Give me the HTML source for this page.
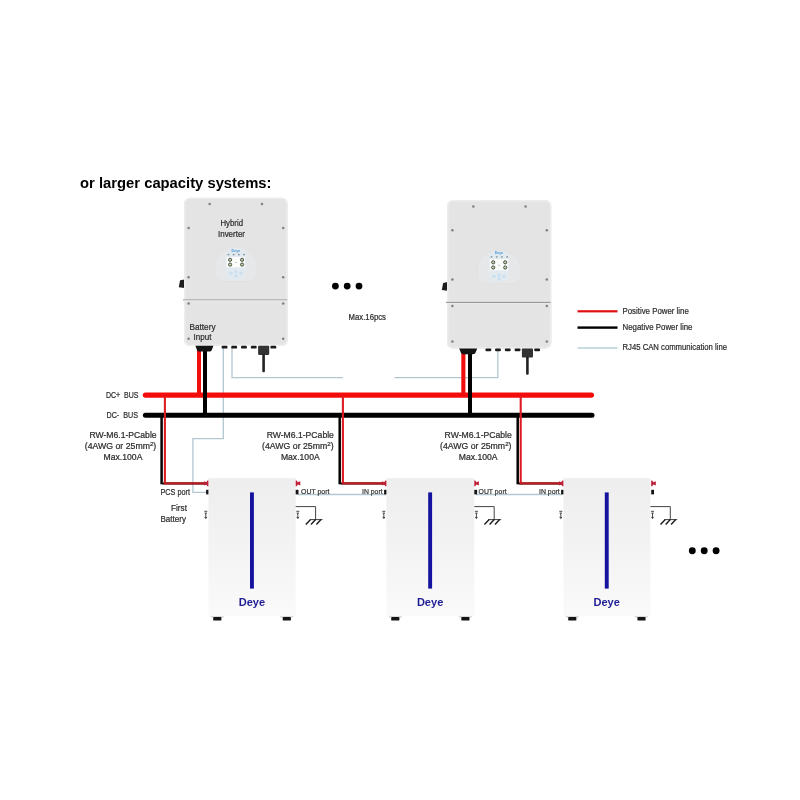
<!DOCTYPE html>
<html lang="en"><head><meta charset="utf-8"><title>Larger capacity systems</title>
<style>html,body{margin:0;padding:0;background:#fff;}body{width:800px;height:800px;overflow:hidden;}svg{display:block;font-family:'Liberation Sans', sans-serif;}</style>
</head><body>
<svg width="800" height="800" viewBox="0 0 800 800">
<defs><filter id="soft" x="0" y="0" width="800" height="800" filterUnits="userSpaceOnUse" color-interpolation-filters="sRGB"><feGaussianBlur stdDeviation="0.35"/></filter><linearGradient id="batg" x1="0" y1="0" x2="0" y2="1"><stop offset="0" stop-color="#eeeeee"/><stop offset="0.5" stop-color="#f3f3f3"/><stop offset="1" stop-color="#fafafa"/></linearGradient></defs>
<rect width="800" height="800" fill="#fff"/>
<g filter="url(#soft)">
<text x="80.10" y="187.90" font-size="14.8" fill="#000" font-weight="bold" textLength="191.40" lengthAdjust="spacingAndGlyphs">or larger capacity systems:</text>
<path d="M223.3 348 V438.7 H192.9 V492.4 H206" fill="none" stroke="#b2c7d2" stroke-width="1.3"/>
<path d="M232 348 V377.6 H343" fill="none" stroke="#b2c7d2" stroke-width="1.3"/>
<path d="M497.8 350 V377.6 H394.5" fill="none" stroke="#b2c7d2" stroke-width="1.3"/>
<path d="M298 494.5 H386" fill="none" stroke="#b2c7d2" stroke-width="1.3"/>
<path d="M476 494.5 H562" fill="none" stroke="#b2c7d2" stroke-width="1.3"/>
<rect x="197" y="349" width="4" height="46" fill="#f20d0d"/>
<rect x="461.3" y="351" width="4.1" height="44" fill="#f20d0d"/>
<path d="M145.4 395.1 H591.4" fill="none" stroke="#f30c0c" stroke-width="5.3" stroke-linecap="round"/>
<path d="M145.4 415.3 H592" fill="none" stroke="#000" stroke-width="5.0" stroke-linecap="round"/>
<rect x="203" y="349" width="4" height="67" fill="#000"/>
<rect x="468" y="351" width="4" height="65" fill="#000"/>
<path d="M161.6 415 V484.3" fill="none" stroke="#000" stroke-width="2.5"/>
<path d="M162.6 483.5 H207" fill="none" stroke="#000" stroke-width="1.9"/>
<path d="M164.9 396 V483.3" fill="none" stroke="#dc1c22" stroke-width="2.1"/>
<path d="M163.85 483.3 H207" fill="none" stroke="#bf1c22" stroke-width="2.2"/>
<path d="M339.7 415 V484.3" fill="none" stroke="#000" stroke-width="2.5"/>
<path d="M340.7 483.5 H385.5" fill="none" stroke="#000" stroke-width="1.9"/>
<path d="M342.9 396 V483.3" fill="none" stroke="#dc1c22" stroke-width="2.1"/>
<path d="M341.84999999999997 483.3 H385.5" fill="none" stroke="#bf1c22" stroke-width="2.2"/>
<path d="M517.7 415 V484.3" fill="none" stroke="#000" stroke-width="2.5"/>
<path d="M518.7 483.5 H562" fill="none" stroke="#000" stroke-width="1.9"/>
<path d="M520.7 396 V483.3" fill="none" stroke="#dc1c22" stroke-width="2.1"/>
<path d="M519.6500000000001 483.3 H562" fill="none" stroke="#bf1c22" stroke-width="2.2"/>
<path d="M184.5 279.4 l-4.4 0.9 l-1.3 7 l5.7 0.8 z" fill="#1c1c1c"/>
<path d="M184.0 203.7 a6 6 0 0 1 6 -6 H281.7 a6 6 0 0 1 6 6 V340 a6 6 0 0 1 -6 6 H190.0 a6 6 0 0 1 -6 -6 z" fill="#e4e4e4"/>
<path d="M184.0 299.8 H287.7 V340 a6 6 0 0 1 -6 6 H190.0 a6 6 0 0 1 -6 -6 z" fill="#e4e4e4"/>
<path d="M184.7 203.7 a5.3 5.3 0 0 1 5.3 -5.3 H281.7 a5.3 5.3 0 0 1 5.3 5.3 V340 a5.3 5.3 0 0 1 -5.3 5.3 H190.0 a5.3 5.3 0 0 1 -5.3 -5.3 z" fill="none" stroke="#ededed" stroke-width="1.4"/>
<rect x="183.0" y="299.10" width="104.1" height="1.4" fill="#b6b6b6"/>
<rect x="184.0" y="300.50" width="103.69999999999999" height="1.2" fill="#ededed" opacity="0.7"/>
<circle cx="209.6" cy="204.1" r="1.25" fill="#808080"/>
<circle cx="262.0" cy="204.1" r="1.25" fill="#808080"/>
<circle cx="188.6" cy="227.9" r="1.25" fill="#808080"/>
<circle cx="283.2" cy="227.9" r="1.25" fill="#808080"/>
<circle cx="188.6" cy="277.3" r="1.25" fill="#808080"/>
<circle cx="283.2" cy="277.3" r="1.25" fill="#808080"/>
<circle cx="188.6" cy="303.4" r="1.25" fill="#808080"/>
<circle cx="283.2" cy="303.4" r="1.25" fill="#808080"/>
<circle cx="188.6" cy="338.8" r="1.25" fill="#808080"/>
<circle cx="283.2" cy="338.8" r="1.25" fill="#808080"/>
<path d="M214.6 271.6 V266.2 A21.3 19.2 0 0 1 257.2 266.2 V271.6 Q257.2 281.6 247.2 281.6 H224.6 Q214.6 281.6 214.6 271.6 z" fill="#e6e7e9" stroke="#dcdcdc" stroke-width="0.5"/>
<rect x="226.1" y="248.2" width="19.6" height="31.2" rx="6" fill="#dfecf5" opacity="0.55"/>
<text x="231.6" y="252.0" font-size="4.2" font-weight="bold" fill="#4a97d4" textLength="8.6" lengthAdjust="spacingAndGlyphs">Deye</text>
<rect x="227.6" y="253.9" width="1.6" height="1.4" fill="#7c909c"/>
<rect x="232.8" y="253.9" width="1.6" height="1.4" fill="#7c909c"/>
<rect x="238.0" y="253.9" width="1.6" height="1.4" fill="#7c909c"/>
<rect x="243.2" y="253.9" width="1.6" height="1.4" fill="#7c909c"/>
<rect x="226.7" y="256.9" width="18.4" height="10.4" fill="#fbfdfa"/>
<circle cx="230.1" cy="259.8" r="1.6" fill="#c3d2ae" stroke="#3a4034" stroke-width="0.9"/>
<circle cx="242.1" cy="259.8" r="1.6" fill="#c3d2ae" stroke="#3a4034" stroke-width="0.9"/>
<circle cx="230.1" cy="264.6" r="1.6" fill="#c3d2ae" stroke="#3a4034" stroke-width="0.9"/>
<circle cx="242.1" cy="264.6" r="1.6" fill="#c3d2ae" stroke="#3a4034" stroke-width="0.9"/>
<rect x="235.3" y="262.1" width="1.4" height="0.9" fill="#9aa69a"/>
<ellipse cx="230.9" cy="273.3" rx="1.8" ry="1.7" fill="#cbdfee"/>
<ellipse cx="235.9" cy="271.9" rx="1.8" ry="1.7" fill="#cbdfee"/>
<ellipse cx="240.9" cy="273.3" rx="1.8" ry="1.7" fill="#cbdfee"/>
<ellipse cx="235.9" cy="275.9" rx="1.8" ry="1.7" fill="#cbdfee"/>
<text x="220.50" y="226.20" font-size="8.8" fill="#2c2c2c" font-weight="normal" textLength="22.50" lengthAdjust="spacingAndGlyphs" stroke="#2c2c2c" stroke-width="0.22">Hybrid</text>
<text x="218.00" y="236.60" font-size="8.8" fill="#2c2c2c" font-weight="normal" textLength="27.00" lengthAdjust="spacingAndGlyphs" stroke="#2c2c2c" stroke-width="0.22">Inverter</text>
<text x="189.50" y="329.60" font-size="9" fill="#2c2c2c" font-weight="normal" textLength="26.00" lengthAdjust="spacingAndGlyphs" stroke="#2c2c2c" stroke-width="0.22">Battery</text>
<text x="193.50" y="339.60" font-size="9" fill="#2c2c2c" font-weight="normal" textLength="17.90" lengthAdjust="spacingAndGlyphs" stroke="#2c2c2c" stroke-width="0.22">Input</text>
<path d="M195.4 345.8 h18 l-1.6 4.2 q-0.6 1.6 -2.4 1.6 h-10 q-1.8 0 -2.4 -1.6 z" fill="#141414"/>
<rect x="221.6" y="345.8" width="5.9" height="2.8" rx="1.2" fill="#1c1c1c"/>
<rect x="231.2" y="345.8" width="5.9" height="2.8" rx="1.2" fill="#1c1c1c"/>
<rect x="241.0" y="345.8" width="5.9" height="2.8" rx="1.2" fill="#1c1c1c"/>
<rect x="250.8" y="345.8" width="5.9" height="2.8" rx="1.2" fill="#1c1c1c"/>
<rect x="270.4" y="345.8" width="5.9" height="2.8" rx="1.2" fill="#1c1c1c"/>
<rect x="258.1" y="345.8" width="11.1" height="9.1" rx="0.8" fill="#333"/>
<rect x="262.3" y="354.0" width="2.6" height="18.2" rx="1" fill="#222"/>
<path d="M447.5 282.0 l-4.4 0.9 l-1.3 7 l5.7 0.8 z" fill="#1c1c1c"/>
<path d="M447.0 206.0 a6 6 0 0 1 6 -6 H545.3 a6 6 0 0 1 6 6 V342.6 a6 6 0 0 1 -6 6 H453.0 a6 6 0 0 1 -6 -6 z" fill="#e4e4e4"/>
<path d="M447.0 302.4 H551.3 V342.6 a6 6 0 0 1 -6 6 H453.0 a6 6 0 0 1 -6 -6 z" fill="#e4e4e4"/>
<path d="M447.7 206.0 a5.3 5.3 0 0 1 5.3 -5.3 H545.3 a5.3 5.3 0 0 1 5.3 5.3 V342.6 a5.3 5.3 0 0 1 -5.3 5.3 H453.0 a5.3 5.3 0 0 1 -5.3 -5.3 z" fill="none" stroke="#ededed" stroke-width="1.4"/>
<rect x="446.0" y="301.90" width="104.69999999999996" height="1.0" fill="#8a8a8a"/>
<rect x="447.0" y="302.90" width="104.29999999999995" height="1.2" fill="#ededed" opacity="0.7"/>
<circle cx="473.4" cy="206.4" r="1.25" fill="#808080"/>
<circle cx="525.6" cy="206.4" r="1.25" fill="#808080"/>
<circle cx="452.4" cy="230.2" r="1.25" fill="#808080"/>
<circle cx="546.8" cy="230.2" r="1.25" fill="#808080"/>
<circle cx="452.4" cy="279.6" r="1.25" fill="#808080"/>
<circle cx="546.8" cy="279.6" r="1.25" fill="#808080"/>
<circle cx="452.4" cy="306.0" r="1.25" fill="#808080"/>
<circle cx="546.8" cy="306.0" r="1.25" fill="#808080"/>
<circle cx="452.4" cy="341.4" r="1.25" fill="#808080"/>
<circle cx="546.8" cy="341.4" r="1.25" fill="#808080"/>
<path d="M477.0 273.8 V269.6 A22.0 19.8 0 0 1 521.0 269.6 V273.8 Q521.0 283.8 511.0 283.8 H487.0 Q477.0 283.8 477.0 273.8 z" fill="#e6e7e9" stroke="#dcdcdc" stroke-width="0.5"/>
<rect x="489.2" y="251.0" width="19.6" height="30.6" rx="6" fill="#dfecf5" opacity="0.55"/>
<text x="494.7" y="254.3" font-size="4.2" font-weight="bold" fill="#4a97d4" textLength="8.6" lengthAdjust="spacingAndGlyphs">Deye</text>
<rect x="490.7" y="256.2" width="1.6" height="1.4" fill="#7c909c"/>
<rect x="495.9" y="256.2" width="1.6" height="1.4" fill="#7c909c"/>
<rect x="501.1" y="256.2" width="1.6" height="1.4" fill="#7c909c"/>
<rect x="506.3" y="256.2" width="1.6" height="1.4" fill="#7c909c"/>
<rect x="489.8" y="259.2" width="18.4" height="11.2" fill="#fbfdfa"/>
<circle cx="493.2" cy="262.3" r="1.6" fill="#c3d2ae" stroke="#3a4034" stroke-width="0.9"/>
<circle cx="505.2" cy="262.3" r="1.6" fill="#c3d2ae" stroke="#3a4034" stroke-width="0.9"/>
<circle cx="493.2" cy="267.5" r="1.6" fill="#c3d2ae" stroke="#3a4034" stroke-width="0.9"/>
<circle cx="505.2" cy="267.5" r="1.6" fill="#c3d2ae" stroke="#3a4034" stroke-width="0.9"/>
<rect x="498.4" y="264.8" width="1.4" height="0.9" fill="#9aa69a"/>
<ellipse cx="494.0" cy="276.4" rx="1.8" ry="1.7" fill="#cbdfee"/>
<ellipse cx="499.0" cy="275.0" rx="1.8" ry="1.7" fill="#cbdfee"/>
<ellipse cx="504.0" cy="276.4" rx="1.8" ry="1.7" fill="#cbdfee"/>
<ellipse cx="499.0" cy="279.0" rx="1.8" ry="1.7" fill="#cbdfee"/>
<path d="M459.2 348.4 h18 l-1.6 4.2 q-0.6 1.6 -2.4 1.6 h-10 q-1.8 0 -2.4 -1.6 z" fill="#141414"/>
<rect x="485.4" y="348.4" width="5.9" height="2.8" rx="1.2" fill="#1c1c1c"/>
<rect x="495.0" y="348.4" width="5.9" height="2.8" rx="1.2" fill="#1c1c1c"/>
<rect x="504.8" y="348.4" width="5.9" height="2.8" rx="1.2" fill="#1c1c1c"/>
<rect x="514.6" y="348.4" width="5.9" height="2.8" rx="1.2" fill="#1c1c1c"/>
<rect x="534.2" y="348.4" width="5.9" height="2.8" rx="1.2" fill="#1c1c1c"/>
<rect x="521.9" y="348.4" width="11.1" height="9.1" rx="0.8" fill="#333"/>
<rect x="526.1" y="356.6" width="2.6" height="18.2" rx="1" fill="#222"/>
<circle cx="335.4" cy="286.1" r="3.4" fill="#000"/>
<circle cx="347.2" cy="286.1" r="3.4" fill="#000"/>
<circle cx="359.0" cy="286.1" r="3.4" fill="#000"/>
<circle cx="692.3" cy="550.7" r="3.45" fill="#000"/>
<circle cx="704.2" cy="550.7" r="3.45" fill="#000"/>
<circle cx="716.1" cy="550.7" r="3.45" fill="#000"/>
<text x="348.60" y="320.00" font-size="8.6" fill="#2c2c2c" font-weight="normal" textLength="37.40" lengthAdjust="spacingAndGlyphs" stroke="#2c2c2c" stroke-width="0.22">Max.16pcs</text>
<rect x="577.5" y="310.2" width="40" height="2.2" fill="#e01010"/>
<rect x="577.5" y="326.4" width="40" height="2.4" fill="#000"/>
<rect x="577.5" y="347.3" width="40" height="1.4" fill="#b3d0d8"/>
<text x="622.50" y="313.80" font-size="9" fill="#2c2c2c" font-weight="normal" textLength="66.30" lengthAdjust="spacingAndGlyphs" stroke="#2c2c2c" stroke-width="0.22">Positive Power line</text>
<text x="622.50" y="330.00" font-size="9" fill="#2c2c2c" font-weight="normal" textLength="70.00" lengthAdjust="spacingAndGlyphs" stroke="#2c2c2c" stroke-width="0.22">Negative Power line</text>
<text x="622.50" y="350.30" font-size="9" fill="#2c2c2c" font-weight="normal" textLength="104.50" lengthAdjust="spacingAndGlyphs" stroke="#2c2c2c" stroke-width="0.22">RJ45 CAN communication line</text>
<text x="106.00" y="398.20" font-size="8.6" fill="#2c2c2c" font-weight="normal" textLength="32.50" lengthAdjust="spacingAndGlyphs" xml:space="preserve" stroke="#2c2c2c" stroke-width="0.22">DC+  BUS</text>
<text x="106.50" y="418.10" font-size="8.6" fill="#2c2c2c" font-weight="normal" textLength="31.50" lengthAdjust="spacingAndGlyphs" xml:space="preserve" stroke="#2c2c2c" stroke-width="0.22">DC-  BUS</text>
<text x="89.40" y="438.10" font-size="8.5" fill="#2c2c2c" font-weight="normal" textLength="67.20" lengthAdjust="spacingAndGlyphs" stroke="#2c2c2c" stroke-width="0.22">RW-M6.1-PCable</text>
<text x="84.80" y="449.10" font-size="8.5" fill="#2c2c2c" font-weight="normal" textLength="71.50" lengthAdjust="spacingAndGlyphs" stroke="#2c2c2c" stroke-width="0.22">(4AWG or 25mm<tspan font-size="6" dy="-3.6">2</tspan><tspan dy="3.6">)</tspan></text>
<text x="103.60" y="459.60" font-size="8.5" fill="#2c2c2c" font-weight="normal" textLength="38.80" lengthAdjust="spacingAndGlyphs" stroke="#2c2c2c" stroke-width="0.22">Max.100A</text>
<text x="266.70" y="438.10" font-size="8.5" fill="#2c2c2c" font-weight="normal" textLength="67.20" lengthAdjust="spacingAndGlyphs" stroke="#2c2c2c" stroke-width="0.22">RW-M6.1-PCable</text>
<text x="262.10" y="449.10" font-size="8.5" fill="#2c2c2c" font-weight="normal" textLength="71.50" lengthAdjust="spacingAndGlyphs" stroke="#2c2c2c" stroke-width="0.22">(4AWG or 25mm<tspan font-size="6" dy="-3.6">2</tspan><tspan dy="3.6">)</tspan></text>
<text x="280.90" y="459.60" font-size="8.5" fill="#2c2c2c" font-weight="normal" textLength="38.80" lengthAdjust="spacingAndGlyphs" stroke="#2c2c2c" stroke-width="0.22">Max.100A</text>
<text x="444.60" y="438.10" font-size="8.5" fill="#2c2c2c" font-weight="normal" textLength="67.20" lengthAdjust="spacingAndGlyphs" stroke="#2c2c2c" stroke-width="0.22">RW-M6.1-PCable</text>
<text x="440.00" y="449.10" font-size="8.5" fill="#2c2c2c" font-weight="normal" textLength="71.50" lengthAdjust="spacingAndGlyphs" stroke="#2c2c2c" stroke-width="0.22">(4AWG or 25mm<tspan font-size="6" dy="-3.6">2</tspan><tspan dy="3.6">)</tspan></text>
<text x="458.80" y="459.60" font-size="8.5" fill="#2c2c2c" font-weight="normal" textLength="38.80" lengthAdjust="spacingAndGlyphs" stroke="#2c2c2c" stroke-width="0.22">Max.100A</text>
<rect x="210.6" y="616.0" width="13.4" height="1.6" rx="0.8" fill="#d2d2d2"/>
<rect x="213.2" y="616.9" width="8.2" height="3.7" rx="0.9" fill="#141414"/>
<rect x="280.1" y="616.0" width="13.4" height="1.6" rx="0.8" fill="#d2d2d2"/>
<rect x="282.7" y="616.9" width="8.2" height="3.7" rx="0.9" fill="#141414"/>
<rect x="208.4" y="478.2" width="87.3" height="138.0" fill="url(#batg)"/>
<rect x="250.0" y="492.4" width="3.9" height="96.2" fill="#1313a0"/>
<text x="238.7" y="605.6" font-size="11.3" font-weight="bold" fill="#1e1c94" textLength="26.4" lengthAdjust="spacingAndGlyphs">Deye</text>
<path d="M208.4 480.6 h-1 l-1.2 1.7 l-2.3 -1.1 v4.4 l2.3 -1.1 l1.2 1.7 h1 z" fill="#be2038"/>
<rect x="206.1" y="489.8" width="2.3" height="4.6" fill="#161616"/>
<path d="M295.7 480.6 h1 l1.2 1.7 l2.4 -1.1 v4.4 l-2.4 -1.1 l-1.2 1.7 h-1 z" fill="#be2038"/>
<rect x="295.7" y="489.8" width="2.8" height="4.6" fill="#161616"/>
<path d="M204.3 511.3 h3 M204.6 513.1 h2.4 M205.8 513.1 v5 M204.7 516.9 l1.1 1.7 l1.1 -1.7" fill="none" stroke="#333" stroke-width="0.9"/>
<path d="M296.3 511.3 h3 M296.6 513.1 h2.4 M297.8 513.1 v5 M296.7 516.9 l1.1 1.7 l1.1 -1.7" fill="none" stroke="#333" stroke-width="0.9"/>
<path d="M295.7 506.6 H315.6 V519.6" fill="none" stroke="#3a3a3a" stroke-width="0.95"/>
<path d="M309.8 519.6 H322.5" fill="none" stroke="#2a2a2a" stroke-width="0.9"/>
<path d="M310.6 519.5 l-4.8 5 M315.6 519.5 l-4.6 5 M321.0 519.5 l-4.6 5" fill="none" stroke="#1c1c1c" stroke-width="1.4"/>
<rect x="388.6" y="616.0" width="13.4" height="1.6" rx="0.8" fill="#d2d2d2"/>
<rect x="391.2" y="616.9" width="8.2" height="3.7" rx="0.9" fill="#141414"/>
<rect x="458.7" y="616.0" width="13.4" height="1.6" rx="0.8" fill="#d2d2d2"/>
<rect x="461.3" y="616.9" width="8.2" height="3.7" rx="0.9" fill="#141414"/>
<rect x="386.4" y="478.2" width="87.9" height="138.0" fill="url(#batg)"/>
<rect x="428.2" y="492.4" width="3.9" height="96.2" fill="#1313a0"/>
<text x="416.9" y="605.6" font-size="11.3" font-weight="bold" fill="#1e1c94" textLength="26.4" lengthAdjust="spacingAndGlyphs">Deye</text>
<path d="M386.4 480.6 h-1 l-1.2 1.7 l-2.3 -1.1 v4.4 l2.3 -1.1 l1.2 1.7 h1 z" fill="#be2038"/>
<rect x="384.1" y="489.8" width="2.3" height="4.6" fill="#161616"/>
<path d="M474.3 480.6 h1 l1.2 1.7 l2.4 -1.1 v4.4 l-2.4 -1.1 l-1.2 1.7 h-1 z" fill="#be2038"/>
<rect x="474.3" y="489.8" width="2.8" height="4.6" fill="#161616"/>
<path d="M382.3 511.3 h3 M382.6 513.1 h2.4 M383.8 513.1 v5 M382.7 516.9 l1.1 1.7 l1.1 -1.7" fill="none" stroke="#333" stroke-width="0.9"/>
<path d="M474.9 511.3 h3 M475.2 513.1 h2.4 M476.4 513.1 v5 M475.3 516.9 l1.1 1.7 l1.1 -1.7" fill="none" stroke="#333" stroke-width="0.9"/>
<path d="M474.3 506.6 H494.2 V519.6" fill="none" stroke="#3a3a3a" stroke-width="0.95"/>
<path d="M488.4 519.6 H501.1" fill="none" stroke="#2a2a2a" stroke-width="0.9"/>
<path d="M489.2 519.5 l-4.8 5 M494.2 519.5 l-4.6 5 M499.6 519.5 l-4.6 5" fill="none" stroke="#1c1c1c" stroke-width="1.4"/>
<rect x="565.6" y="616.0" width="13.4" height="1.6" rx="0.8" fill="#d2d2d2"/>
<rect x="568.2" y="616.9" width="8.2" height="3.7" rx="0.9" fill="#141414"/>
<rect x="634.8" y="616.0" width="13.4" height="1.6" rx="0.8" fill="#d2d2d2"/>
<rect x="637.4" y="616.9" width="8.2" height="3.7" rx="0.9" fill="#141414"/>
<rect x="563.4" y="478.2" width="87.0" height="138.0" fill="url(#batg)"/>
<rect x="604.8" y="492.4" width="3.9" height="96.2" fill="#1313a0"/>
<text x="593.5" y="605.6" font-size="11.3" font-weight="bold" fill="#1e1c94" textLength="26.4" lengthAdjust="spacingAndGlyphs">Deye</text>
<path d="M563.4 480.6 h-1 l-1.2 1.7 l-2.3 -1.1 v4.4 l2.3 -1.1 l1.2 1.7 h1 z" fill="#be2038"/>
<rect x="561.1" y="489.8" width="2.3" height="4.6" fill="#161616"/>
<path d="M651.2 480.6 h1 l1.2 1.7 l2.4 -1.1 v4.4 l-2.4 -1.1 l-1.2 1.7 h-1 z" fill="#be2038"/>
<rect x="651.2" y="489.8" width="2.8" height="4.6" fill="#161616"/>
<path d="M559.3 511.3 h3 M559.6 513.1 h2.4 M560.8 513.1 v5 M559.7 516.9 l1.1 1.7 l1.1 -1.7" fill="none" stroke="#333" stroke-width="0.9"/>
<path d="M651.0 511.3 h3 M651.3 513.1 h2.4 M652.5 513.1 v5 M651.4 516.9 l1.1 1.7 l1.1 -1.7" fill="none" stroke="#333" stroke-width="0.9"/>
<path d="M650.4 506.6 H670.3 V519.6" fill="none" stroke="#3a3a3a" stroke-width="0.95"/>
<path d="M664.5 519.6 H677.2" fill="none" stroke="#2a2a2a" stroke-width="0.9"/>
<path d="M665.3 519.5 l-4.8 5 M670.3 519.5 l-4.6 5 M675.7 519.5 l-4.6 5" fill="none" stroke="#1c1c1c" stroke-width="1.4"/>
<text x="160.50" y="495.20" font-size="8.3" fill="#2e2e2e" font-weight="normal" textLength="29.50" lengthAdjust="spacingAndGlyphs" stroke="#2e2e2e" stroke-width="0.22">PCS port</text>
<text x="171.00" y="511.30" font-size="8.3" fill="#2e2e2e" font-weight="normal" textLength="16.00" lengthAdjust="spacingAndGlyphs" stroke="#2e2e2e" stroke-width="0.22">First</text>
<text x="160.50" y="522.10" font-size="8.3" fill="#2e2e2e" font-weight="normal" textLength="25.50" lengthAdjust="spacingAndGlyphs" stroke="#2e2e2e" stroke-width="0.22">Battery</text>
<text x="301.00" y="494.00" font-size="7.9" fill="#333" font-weight="normal" textLength="28.40" lengthAdjust="spacingAndGlyphs" stroke="#333" stroke-width="0.22">OUT port</text>
<text x="362.00" y="494.00" font-size="7.9" fill="#333" font-weight="normal" textLength="20.60" lengthAdjust="spacingAndGlyphs" stroke="#333" stroke-width="0.22">IN port</text>
<text x="478.60" y="494.00" font-size="7.9" fill="#333" font-weight="normal" textLength="28.00" lengthAdjust="spacingAndGlyphs" stroke="#333" stroke-width="0.22">OUT port</text>
<text x="539.00" y="494.00" font-size="7.9" fill="#333" font-weight="normal" textLength="20.80" lengthAdjust="spacingAndGlyphs" stroke="#333" stroke-width="0.22">IN port</text>
</g>
</svg>
</body></html>
